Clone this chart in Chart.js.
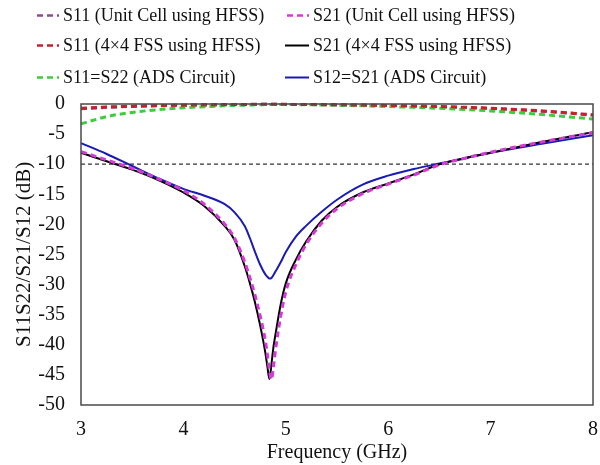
<!DOCTYPE html>
<html>
<head>
<meta charset="utf-8">
<script src="https://cdn.jsdelivr.net/npm/chart.js@4.4.1/dist/chart.umd.min.js"></script>
<style>
  html, body { margin: 0; padding: 0; background: #fff; }
  #wrap { position: relative; width: 600px; height: 465px; font-family: "Liberation Serif", "Times New Roman", serif; }
  #c { position: absolute; left: 0; top: 0; }
  .lg { position: absolute; font-size: 18px; color: #111; white-space: nowrap; line-height: 20px; }
  .lg svg { position: absolute; top: 0; }
  #ytitle { position: absolute; font-size: 21px; color: #111; white-space: nowrap; transform-origin: 0 0; line-height: 22px; }
</style>
</head>
<body>
<div id="wrap">
  <canvas id="c" width="600" height="465"></canvas>
  <div id="legend"></div>
  <div id="ytitle">S11S22/S21/S12 (dB)</div>
</div>
<script>
// Frequency sweep (GHz) shared by every trace
const freqGHz = [3.0, 3.25, 3.5, 3.75, 4.0, 4.2, 4.4, 4.5, 4.6, 4.65, 4.7, 4.75, 4.8, 4.82, 4.84, 4.86,
                 4.88, 4.9, 4.95, 5.0, 5.1, 5.2, 5.35, 5.5, 5.75, 6.0, 6.25, 6.5, 6.75, 7.0, 7.5, 8.0];

// S-parameters in dB
const s11UnitCell = [-0.8, -0.56, -0.4, -0.29, -0.21, -0.16, -0.12, -0.1, -0.08, -0.07, -0.07, -0.06, -0.06, -0.06, -0.06, -0.06,
                     -0.06, -0.06, -0.06, -0.07, -0.08, -0.09, -0.12, -0.15, -0.2, -0.27, -0.36, -0.47, -0.6, -0.76, -1.2, -1.85];
const s21UnitCell = [-7.9, -9.3, -10.7, -12.4, -14.4, -16.6, -19.9, -22.3, -26.3, -28.9, -31.8, -35.2, -39.3, -41.6, -44.2, -45.8,
                     -43.6, -40.8, -35.3, -31.2, -26.6, -23.3, -19.8, -17.4, -14.9, -13.3, -11.8, -10.1, -9.0, -8.0, -6.3, -4.8];
const s11Fss4x4 = [-0.7, -0.5, -0.36, -0.26, -0.19, -0.14, -0.1, -0.08, -0.07, -0.06, -0.06, -0.05, -0.05, -0.05, -0.05, -0.05,
                   -0.05, -0.05, -0.05, -0.06, -0.07, -0.08, -0.1, -0.13, -0.18, -0.24, -0.32, -0.42, -0.55, -0.7, -1.15, -1.8];
const s21Fss4x4 = [-8.1, -9.5, -10.9, -12.6, -14.7, -16.9, -20.2, -22.6, -27.0, -29.8, -33.0, -36.8, -41.3, -43.6, -45.7, -43.2,
                   -40.3, -38.2, -33.3, -29.8, -25.8, -22.8, -19.4, -17.1, -14.7, -13.2, -11.7, -10.0, -9.0, -8.1, -6.3, -4.7];
const s11AdsCircuit = [-3.3, -2.1, -1.4, -0.95, -0.62, -0.45, -0.3, -0.24, -0.19, -0.16, -0.14, -0.12, -0.1, -0.09, -0.09, -0.08,
                       -0.08, -0.08, -0.08, -0.08, -0.1, -0.12, -0.16, -0.21, -0.3, -0.42, -0.56, -0.72, -0.92, -1.15, -1.75, -2.5];
const s12AdsCircuit = [-6.5, -8.3, -10.3, -12.3, -14.1, -15.2, -16.6, -18.0, -20.3, -22.3, -24.6, -26.7, -28.3, -28.7, -29.0, -28.9,
                       -28.4, -27.8, -26.3, -24.6, -22.0, -20.2, -17.9, -15.9, -13.4, -11.9, -10.8, -9.9, -9.0, -8.1, -6.6, -5.2];

// -10 dB reference level
const refLevelDb = -10;

// Axis ticks
const xTicks = [3, 4, 5, 6, 7, 8];
const yTicks = [0, -5, -10, -15, -20, -25, -30, -35, -40, -45, -50];

const pts = vals => freqGHz.map((f, i) => ({ x: f, y: vals[i] }));

const DASH = [6, 4];
const series = [
  { label: 'S11 (Unit Cell using HFSS)', data: s11UnitCell,  color: '#8e4a96', dash: DASH, width: 3,   order: 6 },
  { label: 'S21 (Unit Cell using HFSS)', data: s21UnitCell,  color: '#d63ad6', dash: DASH, width: 3,   order: 1 },
  { label: 'S11 (4×4 FSS using HFSS)',   data: s11Fss4x4,    color: '#c8202a', dash: DASH, width: 3,   order: 4 },
  { label: 'S21 (4×4 FSS using HFSS)',   data: s21Fss4x4,    color: '#000000', dash: [],   width: 2,   order: 2 },
  { label: 'S11=S22 (ADS Circuit)',      data: s11AdsCircuit,color: '#3ccc3c', dash: DASH, width: 3,   order: 5 },
  { label: 'S12=S21 (ADS Circuit)',      data: s12AdsCircuit,color: '#1a1ab4', dash: [],   width: 2,   order: 3 }
];

const datasets = series.map(s => ({
  label: s.label,
  data: pts(s.data),
  borderColor: s.color,
  backgroundColor: s.color,
  borderWidth: s.width,
  borderDash: s.dash,
  pointRadius: 0,
  cubicInterpolationMode: 'monotone',
  fill: false,
  clip: 4,
  order: s.order
}));

datasets.push({
  label: 'ref',
  data: [{ x: xTicks[0], y: refLevelDb }, { x: xTicks[xTicks.length - 1], y: refLevelDb }],
  borderColor: '#333333',
  borderWidth: 1.2,
  borderDash: [4, 3],
  pointRadius: 0,
  fill: false,
  order: 9
});

const frameBox = {
  id: 'frameBox',
  afterDatasetsDraw(chart) {
    const { ctx, chartArea: a } = chart;
    ctx.save();
    ctx.strokeStyle = '#4a4a4a';
    ctx.lineWidth = 1.5;
    ctx.strokeRect(a.left, a.top, a.right - a.left, a.bottom - a.top);
    ctx.restore();
  }
};

const serif = '"Liberation Serif", "Times New Roman", serif';

const chart = new Chart(document.getElementById('c'), {
  type: 'line',
  data: { datasets },
  options: {
    responsive: false,
    animation: false,
    layout: { padding: { left: 0, top: 104, right: 7, bottom: 0 } },
    plugins: { legend: { display: false }, tooltip: { enabled: false } },
    scales: {
      x: {
        type: 'linear',
        min: 3, max: 8,
        afterBuildTicks: s => { s.ticks = xTicks.map(v => ({ value: v })); },
        afterFit: s => { s.height = 60; s.paddingLeft = 0; s.paddingRight = 0; },
        grid: { display: false, drawTicks: false },
        border: { display: false },
        ticks: { color: '#111', padding: 13, font: { family: serif, size: 20 } },
        title: { display: true, text: 'Frequency (GHz)', color: '#111', padding: { top: 0, bottom: 0 }, font: { family: serif, size: 20 } }
      },
      y: {
        type: 'linear',
        min: -50, max: 0,
        afterBuildTicks: s => { s.ticks = yTicks.map(v => ({ value: v })); },
        afterFit: s => { s.width = 81; },
        grid: { display: false, drawTicks: false },
        border: { display: false },
        ticks: { color: '#111', padding: 16, font: { family: serif, size: 20 } }
      }
    }
  },
  plugins: [frameBox]
});

// Legend: two columns, three rows
const legend = document.getElementById('legend');
const rowsY = [15, 45, 77];
const colText = [63, 313];
series.forEach((s, i) => {
  const col = i % 2, row = Math.floor(i / 2);
  const item = document.createElement('div');
  item.className = 'lg';
  item.style.left = (colText[col] - 34) + 'px';
  item.style.top = (rowsY[row] - 10) + 'px';
  item.style.paddingLeft = '34px';
  const dashAttr = s.dash.length ? `stroke-dasharray="${s.dash.join(' ')}"` : '';
  item.innerHTML = `<svg width="32" height="20" style="left:0"><line x1="${s.dash.length ? 8 : 6}" y1="10.5" x2="30" y2="10.5" stroke="${s.color}" stroke-width="${s.dash.length ? 2.5 : 2}" ${dashAttr}/></svg>${s.label}`;
  legend.appendChild(item);
});

// Y axis title, rotated and centred on the plot height
const yt = document.getElementById('ytitle');
const w = yt.offsetWidth, h = yt.offsetHeight;
const area = chart.chartArea;
const midY = (area.top + area.bottom) / 2;
yt.style.left = (23 - h / 2) + 'px';
yt.style.top = (midY + w / 2) + 'px';
yt.style.transform = 'rotate(-90deg)';
</script>
</body>
</html>
